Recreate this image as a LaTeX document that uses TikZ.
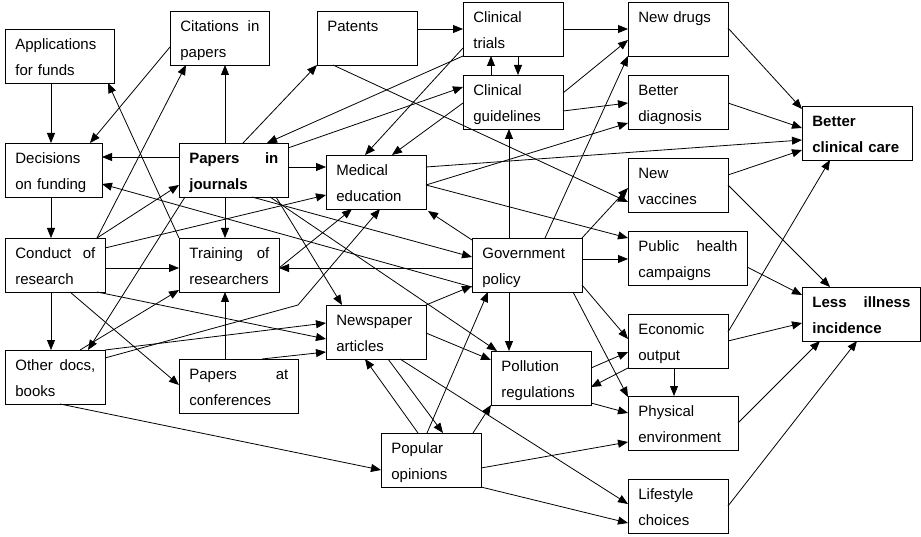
\documentclass[tikz,border=0pt]{standalone}
\usepackage{fontspec}
\setmainfont{Liberation Sans}
\usetikzlibrary{arrows.meta,calc}
\begin{document}
\begin{tikzpicture}[x=1pt,y=-1pt,
  box/.style={draw, line width=0.8pt, anchor=north west, inner xsep=10pt, inner ysep=0pt,
    text height=20pt, text depth=34pt, align=left, font=\fontsize{15}{26}\selectfont},
  arr/.style={line width=0.8pt, -{Triangle[length=10pt,width=8pt]}}]
\useasboundingbox (0,0) rectangle (921,537);
\fill[white] (0,0) rectangle (921,537);
% nodes
\node[box, text width=89pt] (app) at (5,29) {Applications\\for funds};
\node[box, text width=79pt] (cit) at (170,11) {Citations\hfill in\\papers};
\node[box, text width=77pt] (dec) at (5,143) {Decisions\\on funding};
\node[box, text width=89pt] (pj) at (179,143) {\bfseries Papers\hfill in\\\bfseries journals};
\node[box, text width=80pt] (pat) at (317,11) {Patents\\\mbox{}};
\node[box, text width=80pt] (ct) at (463,2) {Clinical\\trials};
\node[box, text width=80pt] (cg) at (463,75) {Clinical\\guidelines};
\node[box, text width=80pt] (me) at (326,155) {Medical\\education};
\node[box, text width=80pt] (nd) at (628,2) {New drugs\\\mbox{}};
\node[box, text width=80pt] (bd) at (628,75) {Better\\diagnosis};
\node[box, text width=90pt] (bcc) at (802,106) {\bfseries Better\\\bfseries clinical care};
\node[box, text width=80pt] (nv) at (628,158) {New\\vaccines};
\node[box, text width=99pt] (ph) at (628,231) {Public\hfill health\\campaigns};
\node[box, text width=98pt] (lii) at (802,287) {\bfseries Less\hfill illness\\\bfseries incidence};
\node[box, text width=80pt] (eo) at (628,314) {Economic\\output};
\node[box, text width=90pt] (pe) at (628,396) {Physical\\environment};
\node[box, text width=80pt] (lc) at (628,479) {Lifestyle\\choices};
\node[box, text width=80pt] (cr) at (5,238) {Conduct\hfill of\\research};
\node[box, text width=80pt] (tr) at (179,238) {Training\hfill of\\researchers};
\node[box, text width=80pt] (od) at (5,350) {Other\hfill docs,\\books};
\node[box, text width=99pt] (pc) at (179,359) {Papers\hfill at\\conferences};
\node[box, text width=90pt] (gp) at (472,238) {Government\\policy};
\node[box, text width=80pt] (na) at (326,305) {Newspaper\\articles};
\node[box, text width=80pt] (pr) at (491,351) {Pollution\\regulations};
\node[box, text width=80pt] (po) at (381,433) {Popular\\opinions};
\coordinate (bend) at (298,305);
% connectors
\draw[arr] ($(app.north west)+(46,54)$) -- ($(dec.north west)+(46,0)$);
\draw[arr] ($(cit.north west)+(0,36)$) -- ($(dec.north west)+(85,0)$);
\draw[arr] ($(pj.north west)+(46,0)$) -- ($(cit.north west)+(55,54)$);
\draw[arr] ($(pj.north west)+(64,0)$) -- ($(pat.north west)+(0,54)$);
\draw[arr] ($(pj.north west)+(0,14)$) -- ($(dec.north west)+(97,14)$);
\draw[arr] ($(ct.north west)+(0,54)$) -- ($(pj.north west)+(88,0)$);
\draw[arr] ($(pj.north west)+(109,5)$) -- ($(cg.north west)+(0,12)$);
\draw[arr] ($(ct.north west)+(0,46)$) -- ($(me.north west)+(39,0)$);
\draw[arr] ($(cg.north west)+(0,28)$) -- ($(me.north west)+(66,0)$);
\draw[arr] ($(pat.north west)+(100,18)$) -- ($(ct.north west)+(0,27)$);
\draw[arr] ($(cg.north west)+(28,0)$) -- ($(ct.north west)+(28,54)$);
\draw[arr] ($(ct.north west)+(55,54)$) -- ($(cg.north west)+(55,0)$);
\draw[arr] ($(pat.north west)+(16,54)$) -- ($(nv.north west)+(0,44)$);
\draw[arr] ($(gp.north west)+(110,0)$) -- ($(nv.north west)+(0,30)$);
\draw[arr] ($(ct.north west)+(100,27)$) -- ($(nd.north west)+(0,27)$);
\draw[arr] ($(cg.north west)+(100,18)$) -- ($(nd.north west)+(0,38)$);
\draw[arr] ($(gp.north west)+(73,0)$) -- ($(nd.north west)+(0,54)$);
\draw[arr] ($(cg.north west)+(100,36)$) -- ($(bd.north west)+(0,28)$);
\draw[arr] ($(me.north west)+(100,30)$) -- ($(bd.north west)+(0,48)$);
\draw[arr] ($(me.north west)+(100,12)$) -- ($(bcc.north west)+(0,34)$);
\draw[arr] ($(nd.north west)+(100,26)$) -- ($(bcc.north west)+(0,3)$);
\draw[arr] ($(bd.north west)+(100,28)$) -- ($(bcc.north west)+(0,22)$);
\draw[arr] ($(nv.north west)+(100,17)$) -- ($(bcc.north west)+(0,44)$);
\draw[arr] ($(eo.north west)+(100,18)$) -- ($(bcc.north west)+(28,54)$);
\draw[arr] ($(nv.north west)+(100,27)$) -- ($(lii.north west)+(28,0)$);
\draw[arr] ($(ph.north west)+(119,36)$) -- ($(lii.north west)+(0,8)$);
\draw[arr] ($(eo.north west)+(100,27)$) -- ($(lii.north west)+(0,36)$);
\draw[arr] ($(pe.north west)+(110,27)$) -- ($(lii.north west)+(18,54)$);
\draw[arr] ($(lc.north west)+(100,27)$) -- ($(lii.north west)+(55,54)$);
\draw[arr] ($(eo.north west)+(46,54)$) -- ($(pe.north west)+(46,0)$);
\draw[arr] ($(gp.north west)+(110,21)$) -- ($(ph.north west)+(0,28)$);
\draw[arr] ($(me.north west)+(100,30)$) -- ($(ph.north west)+(0,7)$);
\draw[arr] ($(gp.north west)+(110,47)$) -- ($(eo.north west)+(0,25)$);
\draw[arr] ($(pr.north west)+(100,17)$) -- ($(eo.north west)+(0,38)$);
\draw[arr] ($(eo.north west)+(0,54)$) -- ($(pr.north west)+(100,36)$);
\draw[arr] ($(gp.north west)+(101,54)$) -- ($(pe.north west)+(0,1)$);
\draw[arr] ($(pr.north west)+(100,52)$) -- ($(pe.north west)+(0,17)$);
\draw[arr] ($(po.north west)+(100,35)$) -- ($(pe.north west)+(0,46)$);
\draw[arr] ($(po.north west)+(100,54)$) -- ($(lc.north west)+(0,44)$);
\draw[arr] ($(na.north west)+(74,54)$) -- ($(lc.north west)+(0,25)$);
\draw[arr] ($(na.north west)+(62,54)$) -- ($(po.north west)+(62,0)$);
\draw[arr] ($(po.north west)+(37,0)$) -- ($(na.north west)+(39,54)$);
\draw[arr] ($(po.north west)+(46,0)$) -- ($(gp.north west)+(16,54)$);
\draw[arr] ($(po.north west)+(92,0)$) -- ($(pr.north west)+(0,54)$);
\draw[arr] ($(na.north west)+(100,28)$) -- ($(pr.north west)+(0,9)$);
\draw[arr] ($(pj.north west)+(91,54)$) -- ($(pr.north west)+(6,0)$);
\draw[arr] ($(gp.north west)+(37,54)$) -- ($(pr.north west)+(18,0)$);
\draw[arr] ($(gp.north west)+(37,0)$) -- ($(cg.north west)+(46,54)$);
\draw[arr] ($(gp.north west)+(0,2)$) -- ($(me.north west)+(102,56)$);
\draw[arr] ($(na.north west)+(100,0)$) -- ($(gp.north west)+(0,48)$);
\draw[arr] ($(pj.north west)+(73,54)$) -- ($(gp.north west)+(0,19)$);
\draw[arr] ($(pj.north west)+(97,54)$) -- ($(na.north west)+(16,0)$);
\draw[arr] ($(gp.north west)+(0,30)$) -- ($(tr.north west)+(100,30)$);
\draw[arr] ($(gp.north west)+(0,49)$) -- ($(dec.north west)+(97,41)$);
\draw[arr] ($(dec.north west)+(46,54)$) -- ($(cr.north west)+(46,0)$);
\draw[arr] ($(cr.north west)+(46,54)$) -- ($(od.north west)+(46,0)$);
\draw[arr] ($(cr.north west)+(100,30)$) -- ($(tr.north west)+(0,30)$);
\draw[arr] ($(cr.north west)+(92,0)$) -- ($(cit.north west)+(16,54)$);
\draw[arr] ($(cr.north west)+(92,0)$) -- ($(pj.north west)+(0,42)$);
\draw[arr] ($(cr.north west)+(100,10)$) -- ($(me.north west)+(0,40)$);
\draw[arr] ($(cr.north west)+(92,54)$) -- ($(na.north west)+(0,34)$);
\draw[arr] ($(cr.north west)+(65,54)$) -- ($(pc.north west)+(0,26)$);
\draw[arr] ($(pj.north west)+(6,54)$) -- ($(od.north west)+(83,0)$);
\draw[arr] ($(od.north west)+(75,0)$) -- ($(tr.north west)+(0,52)$);
\draw[arr] ($(od.north west)+(100,0)$) -- ($(na.north west)+(0,18)$);
\draw[arr] ($(od.north west)+(100,8)$) -- (bend) -- ($(me.north west)+(54,54)$);
\draw[arr] ($(pc.north west)+(46,0)$) -- ($(tr.north west)+(46,54)$);
\draw[arr] ($(pj.north west)+(46,54)$) -- ($(tr.north west)+(46,0)$);
\draw[arr] ($(pc.north west)+(83,0)$) -- ($(na.north west)+(0,47)$);
\draw[arr] ($(od.north west)+(55,54)$) -- ($(po.north west)+(0,37)$);
\draw[arr] (tr.north west) -- ($(app.north west)+(103,54)$);
\draw[arr] ($(tr.north west)+(100,30)$) -- ($(me.north west)+(26,54)$);
\draw[arr] ($(pj.north west)+(109,24)$) -- ($(me.north west)+(0,12)$);
\end{tikzpicture}
\end{document}
